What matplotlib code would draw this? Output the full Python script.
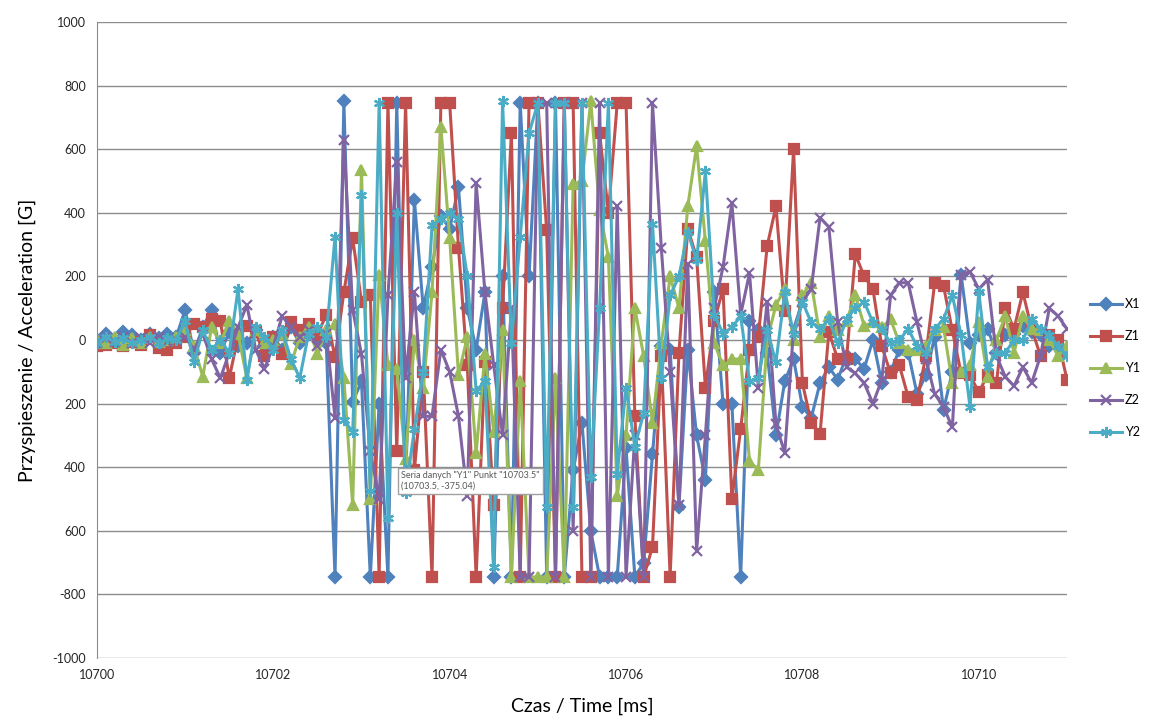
import numpy as np
import matplotlib
matplotlib.use('Agg')
import matplotlib.pyplot as plt

plt.rcParams['font.family'] = ['Lato', 'DejaVu Sans']

# time axis: one sample every 0.1 ms from 10700 to 10711
t = np.round(10700 + 0.1 * np.arange(111), 1)

x1 = [0, 20, 0, 25, 15, 0, 20, 5, 20, 10, 95, -40, 40, 95, -40, 25, -20, -10, 30, -20,
      10, -30, 40, -10, 20, 10, -10, -745, 750, -195, -130, -745, -200, -745, 745, -450,
      440, 100, 230, 390, 350, 480, 100, -30, 150, -745, 200, -745, 745, 200,
      745, -745, 745, -745, -410, -260, -600, -745, -745, -745, -340, -745, -700, -360, -20,
      -30, -525, -30, -300, -440, 150, -200, -200, -745, 60, 30, -40, -300, -130, -60,
      -210, -245, -135, -85, -125, -50, -60, -90, 0, -135, -100, -30, -40, -170, -110,
      10, -220, -100, 205, -10, 15, 35, -40, 15, 20, 45, 25, 15, -20, -20, -40]

z1 = [-20, -15, -10, -20, -5, -15, 15, -25, -30, -10, 10, 50, 40, 65, 60, -120, 10, 45, 25, -50,
      10, -45, 55, 30, 50, 15, 80, -55, 150, 320, 120, 140, -745, 745, -350, 745,
      -410, -100, -745, 745, 745, 290, -80, -745, -70, -520, 100, 650, -745, 745,
      745, 345, -745, 745, 745, -745, -745, 650, 400, 745, 745, -240, -745, -650, -50,
      -745, -40, 350, 260, -150, 60, 160, -500, -280, -30, 10, 295, 420, 90, 600,
      -135, -260, -295, 25, -60, -60, 270, 200, 160, -20, -105, -80, -180, -190, -50,
      180, 170, 30, -105, -110, -165, -110, -135, 100, 35, 150, 35, -50, 15, 0, -125]

y1 = [0, -10, 10, -15, 5, -10, 10, -5, 0, 10, 30, -20, -115, 40, -10, 60, 20, -120, 30, -10,
      0, 20, -75, 10, 40, -45, 30, 50, -120, -520, 535, -500, 205, -80, -90, -375,
      0, -150, 150, 670, 320, -110, 10, -355, -45, -290, 30, -745, -130, -745,
      -745, -745, -120, -745, 490, 500, 750, 410, 260, -490, -300, 100, -50, -260, -10,
      200, 100, 420, 610, 310, -10, -80, -60, -60, -380, -410, 0, 110, 160, 0,
      140, 180, 10, 75, 30, 60, 140, 45, 55, 40, 65, -10, -30, -30, -20,
      30, 40, -135, -100, -80, 55, -115, 0, 75, -40, 75, 35, 30, 0, -50, -20]

z2 = [-10, 5, -5, 10, -10, 5, -10, 10, -5, 0, 10, -30, 20, -60, -120, -40, 40, 110, -30, -90,
      -20, 75, 40, 10, 30, -20, 20, -245, 630, 95, -45, -350, -500, 140, 560, -120,
      150, -240, -240, -30, -100, -240, -490, 495, 150, -80, -300, 100, -745, -745,
      745, 745, -745, 745, -600, 745, -745, 745, -745, 420, -745, -300, -745, 745, 290,
      -100, -520, 240, -665, -300, 100, 230, 430, 80, 210, -150, 120, -265, -355, 35,
      120, 160, 385, 355, 55, -85, -105, -135, -200, -125, 140, 180, 180, 55, -60,
      -170, -210, -275, 205, 215, 160, 190, -50, -115, -145, -85, -135, -50, 100, 75, 35]

y2 = [-10, 10, -5, 5, -10, 0, 10, -10, 5, 0, 60, -70, 30, -30, 0, -40, 160, -125, 40, 10,
      -30, 30, -60, -120, 20, 40, 10, 325, -250, -290, 455, -475, 745, -560, 400, -480,
      -280, -100, 360, 380, 400, 380, 200, -160, -130, -715, 750, -10, 325, 650,
      745, -525, 745, 745, -525, 745, -430, 100, 745, -420, -150, -335, -230, 365, -120,
      140, 200, 340, 250, 530, 80, 20, 40, 75, -130, -120, 30, -70, 150, 20,
      120, 55, 35, 65, -10, 65, 100, 120, 55, 35, -10, 0, 35, -20, -40,
      35, 65, 140, 15, -210, 150, -85, -40, -40, 0, 0, 65, 35, 15, -20, -50]

names = ['X1', 'Z1', 'Y1', 'Z2', 'Y2']
colors = ['#4F81BD', '#C0504D', '#9BBB59', '#8064A2', '#4BACC6']
markers = ['D', 's', '^', 'x', (6, 2, 0)]
msizes = [6, 7, 7.5, 7, 8]

fig = plt.figure(figsize=(11.61, 7.22), dpi=100)
ax = fig.add_axes([0.0835, 0.0886, 0.8355, 0.881])

for vals, name, c, m, ms in zip([x1, z1, y1, z2, y2], names, colors, markers, msizes):
    ax.plot(t, vals, color=c, lw=2.2, marker=m, markersize=ms, markeredgewidth=1.6,
            markeredgecolor=c, markerfacecolor=c, label=name)

ax.set_xlim(10700, 10711)
ax.set_ylim(-1000, 1000)
ax.set_xticks(np.arange(10700, 10711, 2))
ax.set_xticklabels([str(v) for v in range(10700, 10711, 2)])
yt = np.arange(-1000, 1001, 200)
ax.set_yticks(yt)
# labels as printed on the original chart
ax.set_yticklabels(['-1000', '-800', '600', '400', '200', '0', '200', '400', '600', '800', '1000'])
ax.tick_params(length=0, labelsize=9, colors='#262626', pad=8)
ax.grid(axis='y', color='#8c8c8c', lw=1)
ax.set_axisbelow(True)
for s in ['top', 'right', 'bottom']:
    ax.spines[s].set_visible(False)
ax.spines['left'].set_color('#8c8c8c')

ax.set_xlabel('Czas / Time [ms]', fontsize=14, labelpad=12)
ax.set_ylabel('Przyspieszenie / Acceleration [G]', fontsize=14, labelpad=12)

# tooltip left on the screenshot
ax.text(10703.45, -412, 'Seria danych "Y1" Punkt "10703.5"\n(10703.5, -375.04)',
        fontsize=6.5, color='#595959', ha='left', va='top', zorder=10,
        bbox=dict(facecolor='white', edgecolor='#a0a0a0', boxstyle='square,pad=0.35'))

fig.legend(loc='center left', bbox_to_anchor=(0.929, 0.49), frameon=False,
           fontsize=9, handlelength=2.6, labelspacing=1.6, handletextpad=0.2)

fig.savefig('out.png', dpi=100)
